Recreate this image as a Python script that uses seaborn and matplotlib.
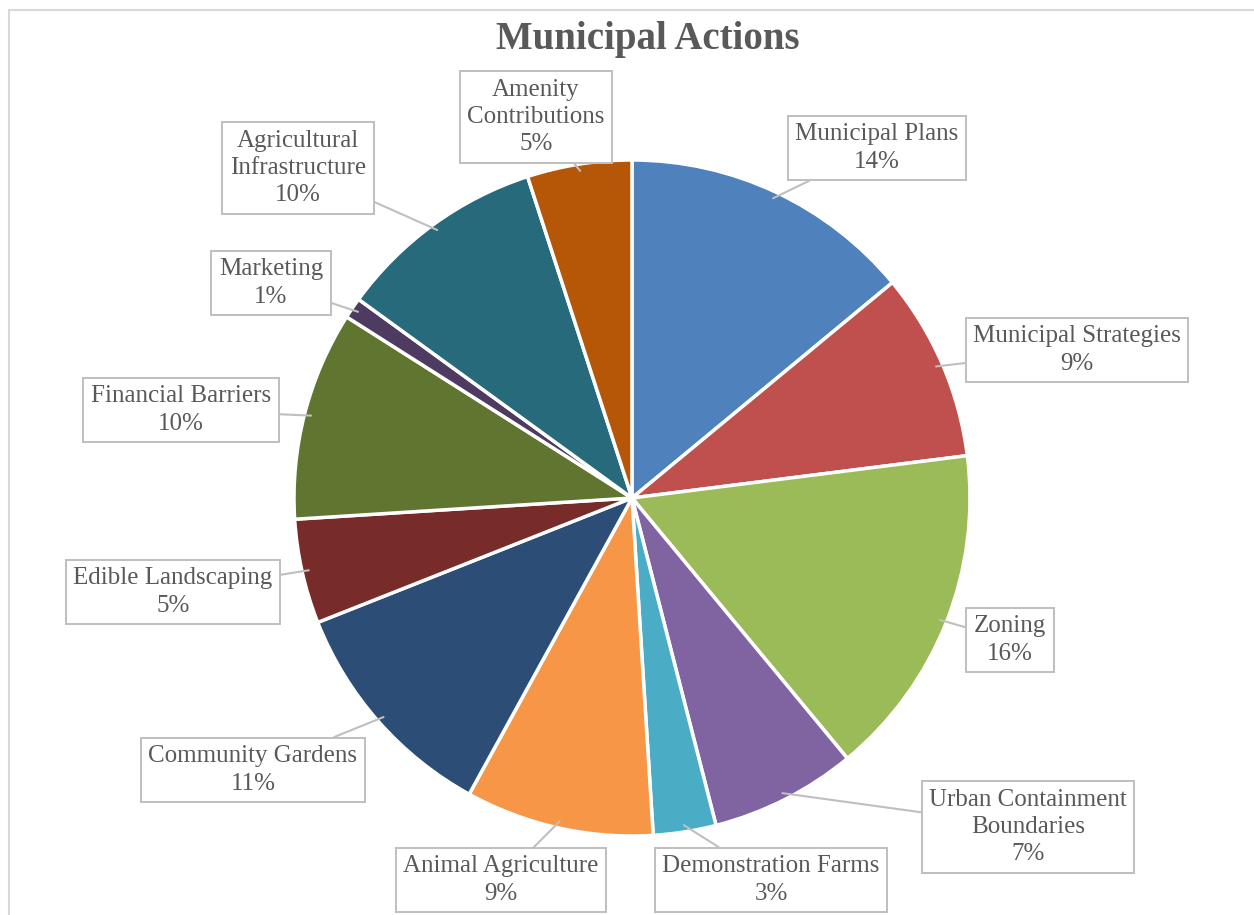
import numpy as np
import matplotlib
matplotlib.use("Agg")
import matplotlib.pyplot as plt
import seaborn as sns

categories = ["Municipal Plans", "Municipal Strategies", "Zoning",
              "Urban Containment\nBoundaries", "Demonstration Farms",
              "Animal Agriculture", "Community Gardens", "Edible Landscaping",
              "Financial Barriers", "Marketing", "Agricultural\nInfrastructure",
              "Amenity\nContributions"]
values = [14, 9, 16, 7, 3, 9, 11, 5, 10, 1, 10, 5]
colors = ["#4F81BD", "#C0504D", "#9BBB59", "#8064A2", "#4BACC6", "#F79646",
          "#2C4D75", "#772C2A", "#5F7530", "#4D3B62", "#276A7C", "#B65708"]

# label box centres (layout, pixel coordinates)
label_pos = [(877, 148), (1077, 350), (1010, 640), (1028, 827), (771, 880),
             (501, 880), (253, 770), (173, 592), (181, 410), (271, 283),
             (298, 168), (536, 117)]

sns.set_theme(style="white")
plt.rcParams["font.family"] = ["Liberation Serif", "DejaVu Serif"]

W, H = 1254, 915
fig = plt.figure(figsize=(W / 100, H / 100), dpi=100)
ax = fig.add_axes([0, 0, 1, 1])
ax.set_xlim(0, W)
ax.set_ylim(H, 0)
ax.set_aspect("equal")
ax.axis("off")

cx, cy, R = 632, 498, 338
pal = sns.color_palette(colors)
wedges, _ = ax.pie(values, colors=pal, startangle=-90, counterclock=True,
                   center=(cx, cy), radius=R,
                   wedgeprops=dict(edgecolor="white", linewidth=2.5))
ax.set_xlim(0, W)
ax.set_ylim(H, 0)

total = sum(values)
for w, lab, v, (lx, ly) in zip(wedges, categories, values, label_pos):
    mid = np.deg2rad((w.theta1 + w.theta2) / 2)
    px = cx + 0.98 * R * np.cos(mid)
    py = cy + 0.98 * R * np.sin(mid)
    ax.annotate(f"{lab}\n{round(100 * v / total)}%", xy=(px, py), xytext=(lx, ly),
                ha="center", va="center", fontsize=18, color="#595959",
                linespacing=1.32,
                bbox=dict(boxstyle="square,pad=0.3", fc="white", ec="#BFBFBF", lw=1.4),
                arrowprops=dict(arrowstyle="-", color="#BFBFBF", lw=1.5,
                                shrinkA=0, shrinkB=0),
                zorder=5)

ax.text(648, 39, "Municipal Actions", ha="center", va="center",
        fontsize=28, fontweight="bold", color="#595959")

# chart border
ax.plot([9, 9, W + 5], [H + 5, 10, 10], color="#D9D9D9", lw=1.5,
        solid_joinstyle="miter")

fig.savefig("out.png", dpi=100)
